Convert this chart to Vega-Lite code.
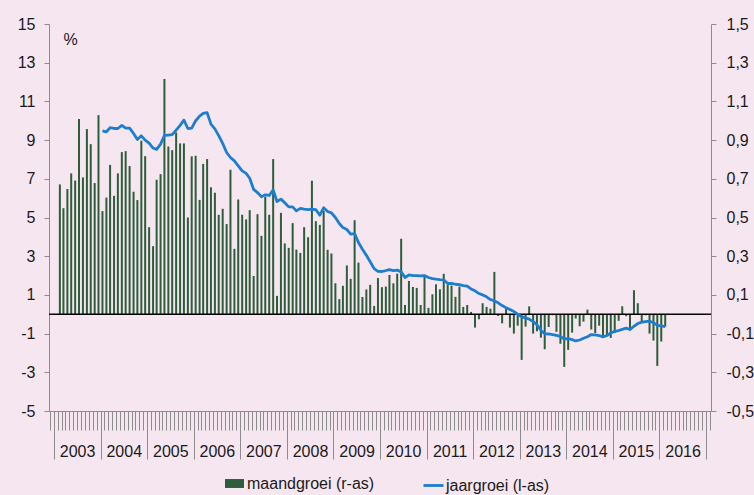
{
  "$schema": "https://vega.github.io/schema/vega-lite/v6.json",
  "autosize": "none",
  "width": 662,
  "height": 387,
  "padding": {"left": 49, "top": 24, "right": 43, "bottom": 84},
  "background": "#F6E6F0",
  "config": {
    "view": {"stroke": null},
    "font": "Liberation Sans",
    "axis": {"labelFont": "Liberation Sans", "labelFontSize": 16, "labelColor": "#1a1a1a", "domainColor": "#8c8c8c", "tickColor": "#8c8c8c", "grid": false},
    "legend": {"labelFont": "Liberation Sans", "labelFontSize": 16, "labelColor": "#1a1a1a", "padding": 0}
  },
  "data": {"values": [
    {"d":"2003-02-16","m":0.671},{"d":"2003-03-16","m":0.548},{"d":"2003-04-16","m":0.647},{"d":"2003-05-16","m":0.728},{"d":"2003-06-16","m":0.691},{"d":"2003-07-16","m":1.009},{"d":"2003-08-16","m":0.707},{"d":"2003-09-16","m":0.957},{"d":"2003-10-16","m":0.879},{"d":"2003-11-16","m":0.678},{"d":"2003-12-16","m":1.029},
    {"d":"2004-01-16","m":0.533,"j":9.48},{"d":"2004-02-16","m":0.603,"j":9.43},{"d":"2004-03-16","m":0.772,"j":9.64},{"d":"2004-04-16","m":0.612,"j":9.6},{"d":"2004-05-16","m":0.728,"j":9.6},{"d":"2004-06-16","m":0.838,"j":9.76},{"d":"2004-07-16","m":0.843,"j":9.62},{"d":"2004-08-16","m":0.766,"j":9.62},{"d":"2004-09-16","m":0.633,"j":9.34},{"d":"2004-10-16","m":0.590,"j":9.03},{"d":"2004-11-16","m":0.897,"j":9.22},{"d":"2004-12-16","m":0.817,"j":9.0},
    {"d":"2005-01-16","m":0.450,"j":8.84},{"d":"2005-02-16","m":0.352,"j":8.59},{"d":"2005-03-16","m":0.695,"j":8.52},{"d":"2005-04-16","m":0.724,"j":8.79},{"d":"2005-05-16","m":1.216,"j":9.24},{"d":"2005-06-16","m":0.867,"j":9.26},{"d":"2005-07-16","m":0.848,"j":9.28},{"d":"2005-08-16","m":0.940,"j":9.52},{"d":"2005-09-16","m":0.883,"j":9.76},{"d":"2005-10-16","m":0.883,"j":10.03},{"d":"2005-11-16","m":0.500,"j":9.6},{"d":"2005-12-16","m":0.816,"j":9.62},
    {"d":"2006-01-16","m":0.819,"j":10.0},{"d":"2006-02-16","m":0.591,"j":10.24},{"d":"2006-03-16","m":0.777,"j":10.38},{"d":"2006-04-16","m":0.802,"j":10.42},{"d":"2006-05-16","m":0.656,"j":9.83},{"d":"2006-06-16","m":0.628,"j":9.58},{"d":"2006-07-16","m":0.514,"j":9.23},{"d":"2006-08-16","m":0.545,"j":8.83},{"d":"2006-09-16","m":0.466,"j":8.36},{"d":"2006-10-16","m":0.747,"j":8.1},{"d":"2006-11-16","m":0.338,"j":7.93},{"d":"2006-12-16","m":0.593,"j":7.67},
    {"d":"2007-01-16","m":0.514,"j":7.41},{"d":"2007-02-16","m":0.490,"j":7.28},{"d":"2007-03-16","m":0.538,"j":7.03},{"d":"2007-04-16","m":0.198,"j":6.45},{"d":"2007-05-16","m":0.517,"j":6.29},{"d":"2007-06-16","m":0.405,"j":6.07},{"d":"2007-07-16","m":0.607,"j":6.17},{"d":"2007-08-16","m":0.514,"j":6.14},{"d":"2007-09-16","m":0.802,"j":6.43},{"d":"2007-10-16","m":0.095,"j":5.83},{"d":"2007-11-16","m":0.524,"j":5.95},{"d":"2007-12-16","m":0.366,"j":5.76},
    {"d":"2008-01-16","m":0.343,"j":5.55},{"d":"2008-02-16","m":0.471,"j":5.55},{"d":"2008-03-16","m":0.334,"j":5.34},{"d":"2008-04-16","m":0.317,"j":5.47},{"d":"2008-05-16","m":0.45,"j":5.43},{"d":"2008-06-16","m":0.398,"j":5.41},{"d":"2008-07-16","m":0.69,"j":5.43},{"d":"2008-08-16","m":0.481,"j":5.40},{"d":"2008-09-16","m":0.462,"j":5.12},{"d":"2008-10-16","m":0.534,"j":5.5},{"d":"2008-11-16","m":0.333,"j":5.31},{"d":"2008-12-16","m":0.314,"j":5.24},
    {"d":"2009-01-16","m":0.16,"j":5.0},{"d":"2009-02-16","m":0.078,"j":4.69},{"d":"2009-03-16","m":0.147,"j":4.48},{"d":"2009-04-16","m":0.252,"j":4.38},{"d":"2009-05-16","m":0.183,"j":4.14},{"d":"2009-06-16","m":0.486,"j":4.17},{"d":"2009-07-16","m":0.267,"j":3.71},{"d":"2009-08-16","m":0.089,"j":3.36},{"d":"2009-09-16","m":0.128,"j":3.05},{"d":"2009-10-16","m":0.152,"j":2.71},{"d":"2009-11-16","m":0.043,"j":2.36},{"d":"2009-12-16","m":0.187,"j":2.22},
    {"d":"2010-01-16","m":0.14,"j":2.21},{"d":"2010-02-16","m":0.143,"j":2.26},{"d":"2010-03-16","m":0.203,"j":2.31},{"d":"2010-04-16","m":0.16,"j":2.26},{"d":"2010-05-16","m":0.21,"j":2.28},{"d":"2010-06-16","m":0.39,"j":2.19},{"d":"2010-07-16","m":0.048,"j":1.9},{"d":"2010-08-16","m":0.172,"j":2.03},{"d":"2010-09-16","m":0.141,"j":2.0},{"d":"2010-10-16","m":0.136,"j":2.0},{"d":"2010-11-16","m":0.048,"j":1.98},{"d":"2010-12-16","m":0.197,"j":2.0},
    {"d":"2011-01-16","m":0.033,"j":1.9},{"d":"2011-02-16","m":0.103,"j":1.84},{"d":"2011-03-16","m":0.155,"j":1.81},{"d":"2011-04-16","m":0.129,"j":1.79},{"d":"2011-05-16","m":0.209,"j":1.78},{"d":"2011-06-16","m":0.153,"j":1.59},{"d":"2011-07-16","m":0.148,"j":1.6},{"d":"2011-08-16","m":0.09,"j":1.55},{"d":"2011-09-16","m":0.143,"j":1.53},{"d":"2011-10-16","m":0.038,"j":1.48},{"d":"2011-11-16","m":0.048,"j":1.45},{"d":"2011-12-16","m":0.012,"j":1.31},
    {"d":"2012-01-16","m":-0.069,"j":1.21},{"d":"2012-02-16","m":-0.026,"j":1.07},{"d":"2012-03-16","m":0.057,"j":1.0},{"d":"2012-04-16","m":0.038,"j":0.9},{"d":"2012-05-16","m":0.029,"j":0.76},{"d":"2012-06-16","m":0.219,"j":0.69},{"d":"2012-07-16","m":-0.009,"j":0.59},{"d":"2012-08-16","m":-0.047,"j":0.45},{"d":"2012-09-16","m":0.028,"j":0.34},{"d":"2012-10-16","m":-0.069,"j":0.24},{"d":"2012-11-16","m":-0.1,"j":0.14},{"d":"2012-12-16","m":-0.059,"j":0.0},
    {"d":"2013-01-16","m":-0.236,"j":-0.14},{"d":"2013-02-16","m":-0.064,"j":-0.19},{"d":"2013-03-16","m":0.041,"j":-0.25},{"d":"2013-04-16","m":-0.1,"j":-0.38},{"d":"2013-05-16","m":-0.088,"j":-0.54},{"d":"2013-06-16","m":-0.121,"j":-0.83},{"d":"2013-07-16","m":-0.181,"j":-1.0},{"d":"2013-08-16","m":-0.066,"j":-1.02},{"d":"2013-09-16","m":-0.005,"j":-1.05},{"d":"2013-10-16","m":-0.091,"j":-1.09},{"d":"2013-11-16","m":-0.152,"j":-1.14},{"d":"2013-12-16","m":-0.272,"j":-1.28},
    {"d":"2014-01-16","m":-0.184,"j":-1.26},{"d":"2014-02-16","m":-0.095,"j":-1.31},{"d":"2014-03-16","m":-0.022,"j":-1.38},{"d":"2014-04-16","m":-0.062,"j":-1.33},{"d":"2014-05-16","m":-0.038,"j":-1.24},{"d":"2014-06-16","m":0.024,"j":-1.16},{"d":"2014-07-16","m":-0.079,"j":-1.05},{"d":"2014-08-16","m":-0.097,"j":-1.07},{"d":"2014-09-16","m":-0.059,"j":-1.1},{"d":"2014-10-16","m":-0.121,"j":-1.17},{"d":"2014-11-16","m":-0.109,"j":-1.1},{"d":"2014-12-16","m":-0.122,"j":-0.97},
    {"d":"2015-01-16","m":-0.097,"j":-0.88},{"d":"2015-02-16","m":-0.034,"j":-0.84},{"d":"2015-03-16","m":0.041,"j":-0.78},{"d":"2015-04-16","m":-0.01,"j":-0.72},{"d":"2015-05-16","m":-0.083,"j":-0.79},{"d":"2015-06-16","m":0.124,"j":-0.62},{"d":"2015-07-16","m":0.057,"j":-0.48},{"d":"2015-08-16","m":-0.04,"j":-0.41},{"d":"2015-09-16","m":-0.005,"j":-0.38},{"d":"2015-10-16","m":-0.1,"j":-0.36},{"d":"2015-11-16","m":-0.136,"j":-0.43},{"d":"2015-12-16","m":-0.267,"j":-0.57},
    {"d":"2016-01-16","m":-0.141,"j":-0.6},{"d":"2016-02-16","m":-0.064,"j":-0.64}
  ]},
  "resolve": {"scale": {"y": "independent"}},
  "layer": [
    {
      "mark": {"type": "bar", "width": 2},
      "encoding": {
        "x": {"field": "d", "type": "temporal",
          "scale": {"type": "utc", "nice": false, "domain": [{"year": 2003, "month": 1, "date": 1, "utc": true}, {"year": 2017, "month": 1, "date": 1, "utc": true}]},
          "axis": {"orient": "bottom", "title": null, "tickCount": {"interval": "month", "step": 1},
            "labelExpr": "utcmonth(datum.value) == 6 ? utcFormat(datum.value, '%Y') : ''",
            "tickSize": {"condition": {"test": "utcmonth(datum.value) == 0", "value": 48}, "value": 19},
            "labelOverlap": false, "labelBound": false, "labelFlush": false,
            "labelBaseline": "alphabetic", "labelPadding": 26, "labelAlign": "center"}},
        "y": {"field": "m", "type": "quantitative",
          "scale": {"domain": [-0.5, 1.5], "nice": false, "zero": false},
          "axis": {"orient": "right", "title": null, "values": [-0.5, -0.3, -0.1, 0.1, 0.3, 0.5, 0.7, 0.9, 1.1, 1.3, 1.5],
            "labelExpr": "replace('' + datum.value, '.', ',')", "tickSize": 5, "labelPadding": 10}},
        "color": {"datum": "maandgroei (r-as)", "type": "nominal",
          "scale": {"range": ["#2E5D3B"]},
          "legend": {"title": null, "orient": "none", "legendX": 176, "legendY": 450,
            "symbolType": "M-1,-0.47H1V0.47H-1Z", "symbolSize": 361, "symbolStrokeWidth": 0, "labelOffset": 3}}
      }
    },
    {
      "data": {"values": [{"z": 0}]},
      "mark": {"type": "rule", "color": "#000000", "strokeWidth": 1.5},
      "encoding": {
        "y": {"field": "z", "type": "quantitative", "scale": {"domain": [-0.5, 1.5], "nice": false, "zero": false}, "axis": null}
      }
    },
    {
      "mark": {"type": "line", "strokeWidth": 2.8, "strokeJoin": "round"},
      "encoding": {
        "x": {"field": "d", "type": "temporal"},
        "y": {"field": "j", "type": "quantitative",
          "scale": {"domain": [-5, 15], "nice": false, "zero": false},
          "axis": {"orient": "left", "values": [-5, -3, -1, 1, 3, 5, 7, 9, 11, 13, 15],
            "labelExpr": "'' + datum.value", "tickSize": 5, "labelPadding": 9,
            "title": "%", "titleAngle": 0, "titleX": 14, "titleY": 20, "titleAlign": "left", "titleBaseline": "alphabetic",
            "titleFont": "Liberation Sans", "titleFontSize": 16, "titleFontWeight": "normal", "titleColor": "#1a1a1a"}},
        "stroke": {"datum": "jaargroei (l-as)", "type": "nominal",
          "scale": {"range": ["#1B7ECF"]},
          "legend": {"title": null, "orient": "none", "legendX": 373, "legendY": 450,
            "symbolType": "stroke", "symbolSize": 400, "symbolStrokeWidth": 2.8, "labelOffset": 1}}
      }
    }
  ]
}
